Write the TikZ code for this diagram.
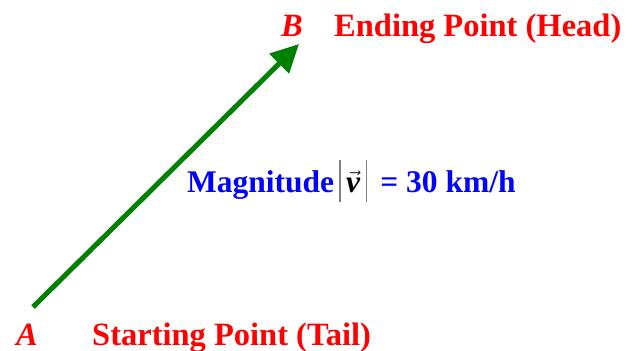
\documentclass[tikz,border=0pt]{standalone}
\usepackage{fontspec}
\setmainfont{Liberation Serif}
\usepackage{amsmath}
\usepackage{xcolor}
\usetikzlibrary{arrows.meta}
\definecolor{vecgreen}{RGB}{0,128,0}

\begin{document}
\begin{tikzpicture}[x=1pt, y=-1pt,
    lbl/.style={anchor=base west, inner sep=0pt, font=\fontsize{32.5}{38}\selectfont\bfseries},
    pt/.style={lbl, red, font=\fontsize{32.5}{38}\selectfont\bfseries\itshape},
    vec/.style={line width=5pt, vecgreen, -{Triangle[length=28pt, width=27pt]}},
]
\useasboundingbox (0,0) rectangle (633,351);

% Vector A -> B
\coordinate (tail) at (33,307);
\coordinate (head) at (299,44);
\draw[vec] (tail) -- (head);

% End points
\node[pt] (B) at (281,36) {B};
\node[lbl, red] (head lbl) at (334,36) {Ending Point (Head)};
\node[pt] (A) at (16,345) {A};
\node[lbl, red] (tail lbl) at (92,345) {Starting Point (Tail)};

% Magnitude
\node[lbl, blue, font=\fontsize{31.5}{38}\selectfont\bfseries] (mag) at (187,192)
  {Magnitude\,\textcolor{gray}{\rule[-10pt]{1.5pt}{42pt}}\,{\color{black}$\vec{\text{\textbf{\textit{v}}}}$}\,\textcolor{gray}{\rule[-10pt]{1.5pt}{42pt}}\ \,= 30 km/h};

\end{tikzpicture}
\end{document}
